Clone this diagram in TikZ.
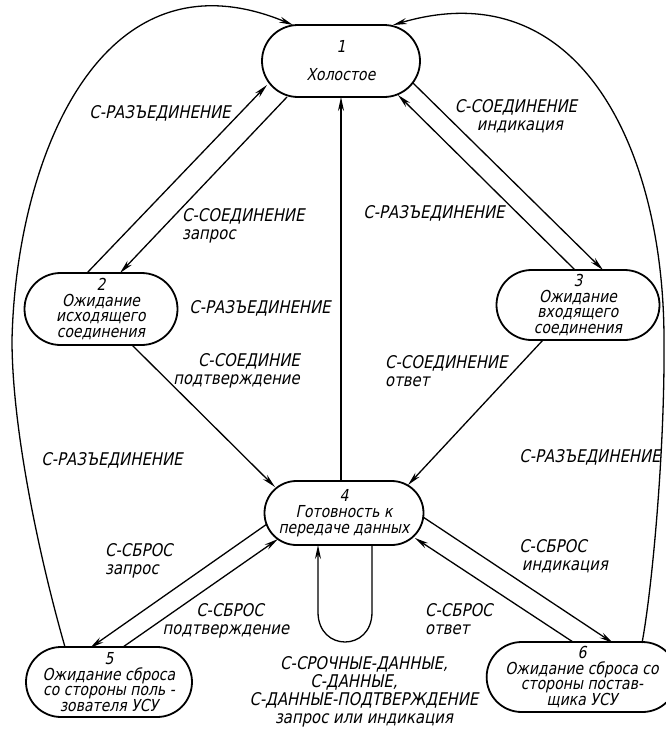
\documentclass[tikz,border=0pt]{standalone}
\usepackage{fontspec}
\setmainfont{DejaVu Sans}[FakeStretch=0.85, FakeSlant=0.2]
\usetikzlibrary{shapes.misc, arrows.meta, calc}
\begin{document}
\begin{tikzpicture}[x=1pt, y=-1pt,
  state/.style={rounded rectangle, draw, line width=1.8pt, align=center, inner sep=0pt,
                font=\fontsize{16.5}{15.8}\selectfont},
  conn/.style={line width=1.3pt, -{Stealth[length=14pt, width=6pt]}},
  lbl/.style={font=\fontsize{17.5}{18}\selectfont, inner sep=0pt}]
\fill[white] (0,0) rectangle (666,731);
\useasboundingbox (0,0) rectangle (666,731);

% states
\node[state, minimum width=158pt, minimum height=72pt] (n1) at (341,61) {1\\[12pt]Холостое};
\node[state, minimum width=153pt, minimum height=72pt] (n2) at (101,309) {2\\Ожидание\\исходящего\\соединения};
\node[state, minimum width=163pt, minimum height=70pt] (n3) at (578,305) {3\\Ожидание\\входящего\\соединения};
\node[state, minimum width=159pt, minimum height=64pt] (n4) at (344,513) {4\\Готовность к\\передаче данных};
\node[state, minimum width=152pt, minimum height=70pt] (n5) at (109,682) {5\\Ожидание сброса\\со стороны поль -\\зователя УСУ};
\node[state, minimum width=164pt, minimum height=70pt] (n6) at (582,677) {6\\Ожидание сброса со\\стороны постав-\\щика УСУ};

% 1 <-> 2
\draw[conn] ($(n2)+(-14,-36)$) -- ($(n1)+(-74,24)$);
\draw[conn] ($(n1)+(-54,36)$) -- ($(n2)+(19,-36)$);
% 1 <-> 3
\draw[conn] ($(n3)+(-3,-35)$) -- ($(n1)+(57,34)$);
\draw[conn] ($(n1)+(72,22)$) -- ($(n3)+(25,-35)$);
% 4 -> 1
\draw[conn] ($(n4)+(-3,-32)$) -- ($(n1)+(0,36)$);
% 2 -> 4, 3 -> 4
\draw[conn] ($(n2)+(31,36)$) -- ($(n4)+(-69,-26)$);
\draw[conn] ($(n3)+(-35,35)$) -- ($(n4)+(64,-28)$);
% 4 <-> 5
\draw[conn] ($(n4)+(-77,11)$) -- ($(n5)+(-19,-34)$);
\draw[conn] ($(n5)+(14,-35)$) -- ($(n4)+(-66,26)$);
% 4 <-> 6
\draw[conn] ($(n4)+(79,4)$) -- ($(n6)+(31,-34)$);
\draw[conn] ($(n6)+(-9,-35)$) -- ($(n4)+(71,25)$);
% self loop on 4
\draw[conn] ($(n4)+(28,32)$) -- (372,612) .. controls (372,652) and (318,652) .. (318,612) -- ($(n4)+(-26,32)$);
% big left curve 5 -> 1
\draw[conn] ($(n5)+(-44,-35)$) .. controls (40,560) and (12,430) .. (12,340)
   .. controls (16,160) and (100,-55) .. ($(n1)+(-48,-36)$);
% big right curve 6 -> 1
\draw[conn] ($(n6)+(60,-34)$) .. controls (652,590) and (665,450) .. (664,340)
   .. controls (664,150) and (580,-30) .. ($(n1)+(52,-36)$);

% labels
\node[lbl] (l1) at (160,113) {С-РАЗЪЕДИНЕНИЕ};
\node[lbl, anchor=west, align=left] (l2) at (182,226) {С-СОЕДИНЕНИЕ\\запрос};
\node[lbl, align=center] (l3) at (516,116) {С-СОЕДИНЕНИЕ\\\hspace*{8pt}индикация};
\node[lbl] (l4) at (434,213) {С-РАЗЪЕДИНЕНИЕ};
\node[lbl] (l5) at (260,308) {С-РАЗЪЕДИНЕНИЕ};
\node[lbl, anchor=east, align=right] (l6) at (300,371) {С-СОЕДИНИЕ\\подтверждение};
\node[lbl, anchor=west, align=left] (l7) at (385,371) {С-СОЕДИНЕНИЕ\\ответ};
\node[lbl] (l8) at (112,460) {С-РАЗЪЕДИНЕНИЕ};
\node[lbl] (l9) at (590,457) {С-РАЗЪЕДИНЕНИЕ};
\node[lbl, anchor=west, align=left] (l10) at (105,561) {С-СБРОС\\запрос};
\node[lbl, align=center] (l11) at (226,621) {\hspace*{8pt}С-СБРОС\\подтверждение};
\node[lbl, align=center] (l12) at (553,556) {С-СБРОС\\\hspace*{24pt}индикация};
\node[lbl, anchor=west, align=left] (l13) at (425,619) {С-СБРОС\\ответ};
\node[lbl, align=center] (l14) at (364,692) {С-СРОЧНЫЕ-ДАННЫЕ,\\\hspace*{-20pt}С-ДАННЫЕ,\\С-ДАННЫЕ-ПОДТВЕРЖДЕНИЕ\\запрос или индикация};
\end{tikzpicture}
\end{document}
